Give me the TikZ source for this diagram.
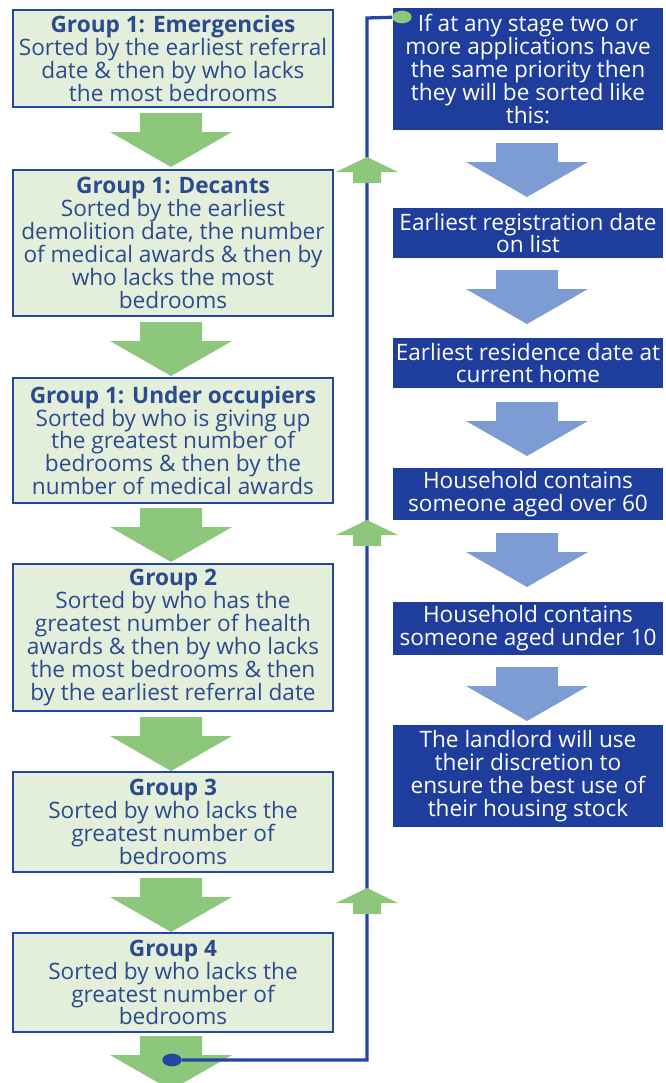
\documentclass[tikz,border=0pt]{standalone}
\usepackage{fontspec}
\setmainfont{Open Sans}
\usepackage{xcolor}
\usetikzlibrary{shapes.geometric}

\definecolor{boxgreen}{HTML}{E3EFDA}
\definecolor{grptext}{HTML}{2C4A8E}
\definecolor{lineblue}{HTML}{2446A3}
\definecolor{tieblue}{HTML}{1F3D9C}
\definecolor{arrowgreen}{HTML}{8DC77C}
\definecolor{arrowblue}{HTML}{7C9CD3}

\newcommand{\boxfont}{\fontsize{19.3}{19.5}\selectfont}
% block arrow pointing down: colour, centre x, top y
\newcommand{\downblock}[3]{\fill[#1] (#2-31,#3) -- ++(62,0) -- ++(0,19) -- ++(30,0) -- (#2,#3+54) -- (#2-61,#3+19) -- ++(30,0) -- cycle;}
% small block arrow pointing up: colour, centre x, tip y
\newcommand{\upblock}[3]{\fill[#1] (#2,#3) -- (#2+31,#3+15) -- (#2+14,#3+15) -- (#2+14,#3+26) -- (#2-14,#3+26) -- (#2-14,#3+15) -- (#2-31,#3+15) -- cycle;}

\tikzset{
  grpbox/.style={draw=lineblue, line width=1.5pt, fill=boxgreen, text=grptext,
    minimum width=9.6cm, align=center, inner sep=2pt, font=\boxfont},
  tiebox/.style={fill=tieblue, text=white, minimum width=8.1cm,
    align=center, inner sep=2pt, font=\boxfont},
  dotnode/.style={ellipse, inner sep=0pt, minimum width=0.58cm, minimum height=0.38cm},
}

\begin{document}
\begin{tikzpicture}[x=0.03cm, y=-0.03cm]
  \useasboundingbox (0,0) rectangle (665,1083);
  % groups
  \node[grpbox, minimum height=2.91cm] (emerg) at (173,58.5)
    {\textbf{Group 1: Emergencies}\\Sorted by the earliest referral\\date \& then by who lacks\\the most bedrooms};
  \node[grpbox, minimum height=4.38cm] (decant) at (173,243)
    {\textbf{Group 1: Decants}\\Sorted by the earliest\\demolition date, the number\\of medical awards \& then by\\who lacks the most\\bedrooms};
  \node[grpbox, minimum height=3.75cm] (under) at (173,440.5)
    {\textbf{Group 1: Under occupiers}\\Sorted by who is giving up\\the greatest number of\\bedrooms \& then by the\\number of medical awards};
  \node[grpbox, minimum height=4.41cm] (grptwo) at (173,637.5)
    {\textbf{Group 2}\\Sorted by who has the\\greatest number of health\\awards \& then by who lacks\\the most bedrooms \& then\\by the earliest referral date};
  \node[grpbox, minimum height=3.0cm] (grpthree) at (173,822)
    {\textbf{Group 3}\\Sorted by who lacks the\\greatest number of\\bedrooms};
  \node[grpbox, minimum height=2.97cm] (grpfour) at (173,982.5)
    {\textbf{Group 4}\\Sorted by who lacks the\\greatest number of\\bedrooms};
  \downblock{arrowgreen}{171}{113}
  \downblock{arrowgreen}{171}{322}
  \downblock{arrowgreen}{171}{508}
  \downblock{arrowgreen}{171}{717}
  \downblock{arrowgreen}{171}{878}
  \downblock{arrowgreen}{171}{1036}
  % tie breakers
  \node[tiebox, minimum height=3.66cm] (tie) at (528,69)
    {If at any stage two or\\more applications have\\the same priority then\\they will be sorted like\\this:};
  \node[tiebox, minimum height=1.5cm] (regdate) at (528,233)
    {Earliest registration date\\on list};
  \node[tiebox, minimum height=1.5cm] (resdate) at (528,363)
    {Earliest residence date at\\current home};
  \node[tiebox, minimum height=1.56cm] (oversixty) at (528,494)
    {Household contains\\someone aged over 60};
  \node[tiebox, minimum height=1.59cm] (underten) at (528,628.5)
    {Household contains\\someone aged under 10};
  \node[tiebox, minimum height=3.06cm] (landlord) at (528,776)
    {The landlord will use\\their discretion to\\ensure the best use of\\their housing stock};
  \downblock{arrowblue}{527}{143}
  \downblock{arrowblue}{527}{270}
  \downblock{arrowblue}{527}{402}
  \downblock{arrowblue}{527}{533}
  \downblock{arrowblue}{527}{667}
  % loop back line
  \node[dotnode, fill=lineblue] (startdot) at (172,1060) {};
  \node[dotnode, fill=arrowgreen] (enddot) at (402,17) {};
  \coordinate (lowturn) at (367,1060);
  \coordinate (topturn) at (367,18);
  \draw[lineblue, line width=2.8pt] (startdot) -- (lowturn) -- (topturn) -- (enddot);
  \upblock{arrowgreen}{367}{157}
  \upblock{arrowgreen}{367}{520}
  \upblock{arrowgreen}{367}{888}
\end{tikzpicture}
\end{document}
